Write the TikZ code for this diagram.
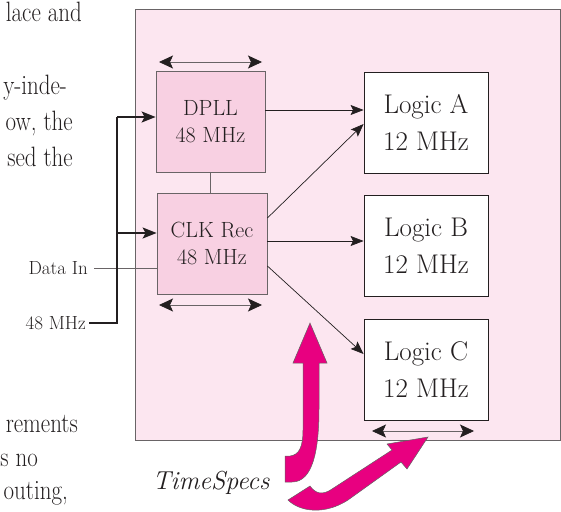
\documentclass[tikz,border=0pt]{standalone}
\usetikzlibrary{arrows.meta}
\definecolor{bgpink}{RGB}{252,230,240}
\definecolor{boxpink}{RGB}{248,208,226}
\definecolor{edgegray}{RGB}{105,100,102}
\definecolor{mag}{RGB}{232,0,128}
\definecolor{ink}{RGB}{35,31,32}
\newcommand{\cond}[1]{\scalebox{0.82}[1]{#1}}
\begin{document}
\begin{tikzpicture}[x=1pt,y=-1pt,
  every node/.style={text=ink},
  para/.style={font=\fontsize{28}{35}\selectfont, anchor=base east, inner sep=0pt},
  lbl/.style={font=\fontsize{19}{22}\selectfont, anchor=east, inner sep=0pt},
  pinkbox/.style={draw=edgegray, line width=0.8pt, fill=boxpink, minimum width=109pt, minimum height=101pt, align=center, font=\fontsize{22}{27}\selectfont, inner sep=0pt},
  logicbox/.style={draw=ink, line width=0.8pt, fill=white, minimum width=124pt, minimum height=101pt, align=center, font=\fontsize{27}{37}\selectfont, inner sep=0pt},
  conn/.style={draw=ink, line width=0.7pt, -{Stealth[length=13pt,width=10pt,inset=2.5pt]}},
  wire/.style={draw=ink, line width=1.6pt},
  wirearrow/.style={wire, -{Stealth[length=14pt,width=11pt,inset=3pt]}},
  dbl/.style={draw=edgegray, line width=0.8pt, {Stealth[length=14pt,width=13pt,inset=3pt,color=ink]}-{Stealth[length=14pt,width=13pt,inset=3pt,color=ink]}},
  bigarrow/.style={fill=mag, draw=ink!70, line width=0.5pt}
]
\useasboundingbox (0,0) rectangle (561,511);

% surrounding paragraph text (cropped)
\node[para] (p1) at (82,21.5) {\cond{lace and}};
\node[para] (p2) at (67,94) {\cond{y-inde-}};
\node[para] (p3) at (73,130) {\cond{ow, the}};
\node[para] (p4) at (73,166) {\cond{sed the}};
\node[para] (p5) at (78,432) {\cond{rements}};
\node[para] (p6) at (38,466) {\cond{s no}};
\node[para] (p7) at (68,499) {\cond{outing,}};

% background panel
\filldraw[fill=bgpink, draw=edgegray, line width=0.8pt] (135,9) rectangle (560,440);

% blocks
\node[pinkbox] (dpll) at (210.5,121.5) {DPLL\\48 MHz};
\node[pinkbox, minimum width=110pt] (clk) at (212,243.5) {CLK Rec\\48 MHz};
\node[logicbox] (la) at (426,122.5) {Logic A\\12 MHz};
\node[logicbox] (lb) at (426,246) {Logic B\\12 MHz};
\node[logicbox] (lc) at (426,369.5) {Logic C\\12 MHz};

% link between DPLL and CLK Rec
\draw[draw=edgegray, line width=0.8pt] (dpll.south) -- (dpll.south |- clk.north);

% connectors to logic blocks
\draw[conn] ([yshift=11.5pt]dpll.east) -- ([yshift=12.5pt]la.west);
\draw[conn] ([yshift=25.5pt]clk.east) -- ([yshift=-1.5pt]la.west);
\draw[conn] ([yshift=2.5pt]clk.east) -- ([yshift=5pt]lb.west);
\draw[conn] ([yshift=-22.5pt]clk.east) -- ([yshift=15.5pt]lc.west);

% double arrows
\coordinate (da1) at (159,62);  \coordinate (da2) at (262,62);
\coordinate (db1) at (159,305); \coordinate (db2) at (262,305);
\coordinate (dc1) at (372,431); \coordinate (dc2) at (474,431);
\draw[dbl] (da1) -- (da2);
\draw[dbl] (db1) -- (db2);
\draw[dbl] (dc1) -- (dc2);

% inputs
\node[lbl] (din) at (88,268) {Data In};
\node[lbl] (f48) at (86,323) {48 MHz};
\draw[draw=edgegray, line width=0.8pt] ([xshift=6pt]din.east) -- (din.east -| clk.west);
\coordinate (jb) at (117,323);
\coordinate (jm) at (117,233);
\coordinate (jt) at (117,117);
\draw[wire] ([xshift=3pt]f48.east) -- (jb) -- (jt);
\draw[wirearrow] (jt) -- (jt -| dpll.west);
\draw[wirearrow] (jm) -- (jm -| clk.west);

% TimeSpecs label
\node[font=\fontsize{26}{30}\selectfont\itshape, inner sep=0pt] (ts) at (211,483) {TimeSpecs};

% big magenta arrows
\filldraw[bigarrow] (310,323) -- (327,363) -- (319,363) -- (319,408)
  .. controls (319,450) and (313,482) .. (292,482) -- (285,482) -- (285,456) -- (290,456)
  .. controls (299,455) and (303,447) .. (303,430) -- (303,363) -- (293,363) -- cycle;
\filldraw[bigarrow] (428,437) -- (407,469) -- (401,462) -- (348,500)
  .. controls (325,515) and (300,512) .. (288,500) -- (310,486)
  .. controls (315,493) and (322,496) .. (332,489) -- (392,450) -- (387,444) -- cycle;
\end{tikzpicture}
\end{document}
